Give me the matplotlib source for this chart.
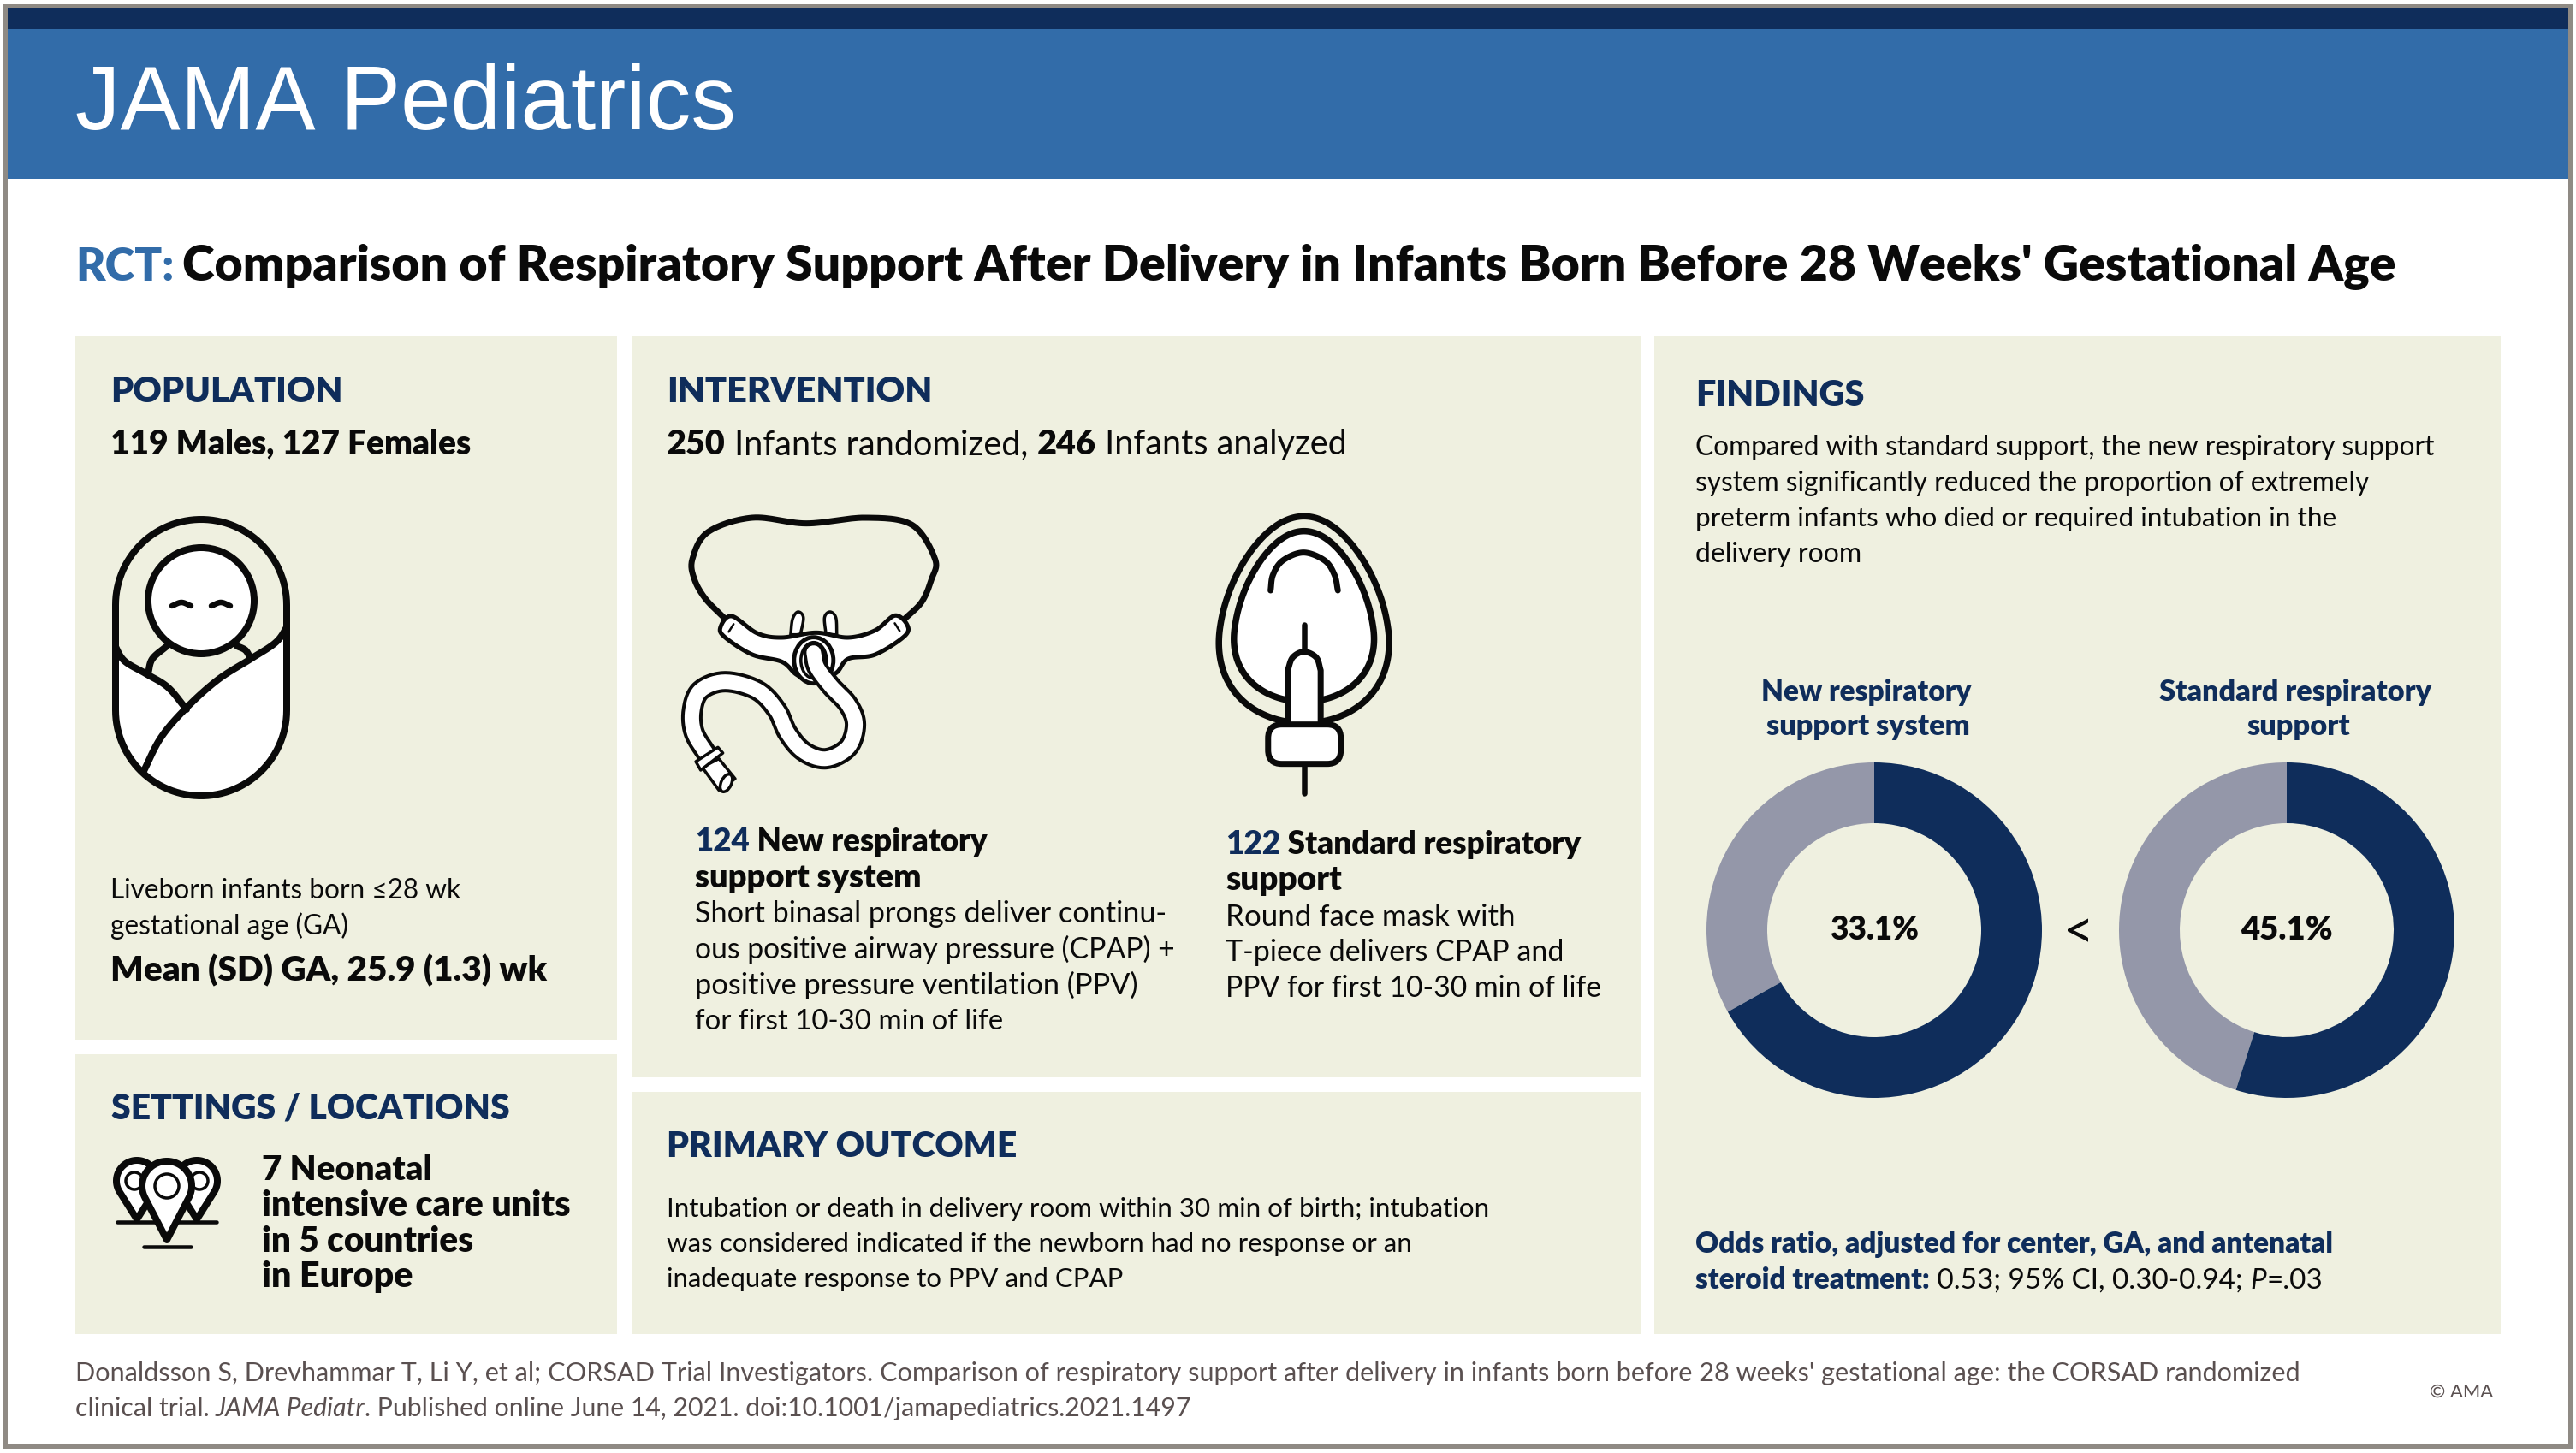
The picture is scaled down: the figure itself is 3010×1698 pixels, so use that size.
import numpy as np
import matplotlib
matplotlib.use("Agg")
import matplotlib.pyplot as plt
from matplotlib.patches import Rectangle, Circle, Polygon, FancyBboxPatch, Ellipse

W, H = 3010, 1698
NAVY, BLUE, PANEL, GREY, BORDER, FOOT, INK = "#0f2d5b", "#326ca9", "#eff0e0", "#9497a9", "#8f8a84", "#5a5050", "#0a0a0a"

# ---- data ----
groups = ["New respiratory support system", "Standard respiratory support"]
event_pct = [33.1, 45.1]
n_infants = [124, 122]

BODY = "Lato"
HEAVY = 800

fig = plt.figure(figsize=(W / 100, H / 100), dpi=100, facecolor="white")
bg = fig.add_axes([0, 0, 1, 1], zorder=0)
ax = fig.add_axes([0, 0, 1, 1], zorder=2)
for a in (bg, ax):
    a.set_xlim(0, W); a.set_ylim(H, 0); a.axis("off")
ax.patch.set_visible(False)
renderer = fig.canvas.get_renderer()

def rect(x0, y0, x1, y1, c, **k):
    bg.add_patch(Rectangle((x0, y0), x1 - x0, y1 - y0, fc=c, ec="none", **k))

# frame + header
rect(4, 5, 3006, 1693, BORDER)
rect(9, 9, 3001, 1688, "white")
rect(9, 9, 3001, 34, NAVY)
rect(9, 34, 3001, 209, BLUE)
# panels
for p in [(88, 393, 721, 1215), (88, 1232, 721, 1559), (738, 393, 1918, 1259),
          (738, 1276, 1918, 1559), (1933, 393, 2922, 1559)]:
    rect(*p, PANEL)

def seq(x, y, parts, x_end, family=BODY, base=36):
    """parts: (text, weight, style, colour); scaled so the run ends at x_end."""
    ts = []
    for s, w, st, c in parts:
        ts.append(ax.text(x, y, s.replace(" ", "\u00a0"), family=family, weight=w, style=st, color=c,
                          fontsize=base * .72, ha="left", va="baseline"))
    ws = [t.get_window_extent(renderer).width for t in ts]
    f = (x_end - x) / sum(ws)
    cx = x
    for t, w in zip(ts, ws):
        t.set_fontsize(base * .72 * f)
        t.set_x(cx)
        cx += w * f
    return f

def reg(x, y, s, xe, c=INK): seq(x, y, [(s, "normal", "normal", c)], xe)
def bold(x, y, s, xe, c=INK): seq(x, y, [(s, HEAVY, "normal", c)], xe)

seq(88, 151, [("JAMA Pediatrics", "normal", "normal", "white")], 860, family="Liberation Sans", base=100)
seq(88, 328, [("RCT:", HEAVY, "normal", BLUE)], 203, base=57)
seq(213, 328, [("Comparison of Respiratory Support After Delivery in Infants Born Before 28 Weeks' Gestational Age", HEAVY, "normal", INK)], 2797, base=57)

# population
bold(129, 470, "POPULATION", 400, NAVY)
bold(129, 531, "119 Males, 127 Females", 551)
reg(129, 1050, "Liveborn infants born ≤28 wk", 538)
reg(129, 1092, "gestational age (GA)", 407)
bold(129, 1146, "Mean (SD) GA, 25.9 (1.3) wk", 640)

# settings
bold(130, 1308, "SETTINGS / LOCATIONS", 595, NAVY)
for s, y, xe in [("7 Neonatal", 1379, 505), ("intensive care units", 1421, 668),
                 ("in 5 countries", 1463, 554), ("in Europe", 1504, 483)]:
    bold(306, y, s, xe)

# intervention
bold(779, 470, "INTERVENTION", 1090, NAVY)
seq(779, 531, [("250", HEAVY, "normal", INK), (" Infants randomized, ", "normal", "normal", INK),
               ("246", HEAVY, "normal", INK), (" Infants analyzed", "normal", "normal", INK)], 1574)
seq(812, 995, [(str(n_infants[0]), HEAVY, "normal", NAVY), (" New respiratory", HEAVY, "normal", INK)], 1154)
bold(812, 1037, "support system", 1077)
for s, y, xe in [("Short binasal prongs deliver continu-", 1078, 1363),
                 ("ous positive airway pressure (CPAP) +", 1120, 1372),
                 ("positive pressure ventilation (PPV)", 1162, 1330),
                 ("for first 10-30 min of life", 1203, 1172)]:
    reg(812, y, s, xe)
seq(1432, 998, [(str(n_infants[1]), HEAVY, "normal", NAVY), (" Standard respiratory", HEAVY, "normal", INK)], 1849)
bold(1432, 1040, "support", 1568)
for s, y, xe in [("Round face mask with", 1082, 1770), ("T-piece delivers CPAP and", 1123, 1828),
                 ("PPV for first 10-30 min of life", 1165, 1872)]:
    reg(1432, y, s, xe)

# outcome
bold(779, 1352, "PRIMARY OUTCOME", 1188, NAVY)
for s, y, xe in [("Intubation or death in delivery room within 30 min of birth; intubation", 1422, 1743),
                 ("was considered indicated if the newborn had no response or an", 1463, 1651),
                 ("inadequate response to PPV and CPAP", 1504, 1311)]:
    reg(779, y, s, xe)

# findings
bold(1981, 474, "FINDINGS", 2179, NAVY)
for s, y, xe in [("Compared with standard support, the new respiratory support", 532, 2845),
                 ("system significantly reduced the proportion of extremely", 574, 2769),
                 ("preterm infants who died or required intubation in the", 615, 2728),
                 ("delivery room", 657, 2175)]:
    reg(1981, y, s, xe)
bold(2058, 819, "New respiratory", 2304, NAVY)
bold(2064, 859, "support system", 2302, NAVY)
bold(2523, 819, "Standard respiratory", 2842, NAVY)
bold(2625, 859, "support", 2746, NAVY)

# donuts drawn from the values
R, r = 196, 125
for cx, v, x0, x1 in zip([2190, 2672], event_pct, [2138, 2618], [2242, 2726]):
    a = fig.add_axes([(cx - R) / W, 1 - (1087 + R) / H, 2 * R / W, 2 * R / H], zorder=1)
    a.pie([v, 100 - v], colors=[GREY, NAVY], startangle=90, counterclock=True,
          radius=1, wedgeprops=dict(width=(R - r) / R, edgecolor="none"))
    a.set_xlim(-1, 1); a.set_ylim(-1, 1)
    bold(x0, 1098, f"{v:.1f}%", x1)
seq(2411, 1108, [("<", "normal", "normal", INK)], 2447)

seq(1981, 1464, [("Odds ratio, adjusted for center, GA, and antenatal", HEAVY, "normal", NAVY)], 2727)
seq(1981, 1506, [("steroid treatment:", HEAVY, "normal", NAVY), (" 0.53; 95% CI, 0.30-0.94; ", "normal", "normal", INK),
                 ("P", "normal", "italic", INK), ("=.03", "normal", "normal", INK)], 2714)

# footer
reg(88, 1614, "Donaldsson S, Drevhammar T, Li Y, et al; CORSAD Trial Investigators. Comparison of respiratory support after delivery in infants born before 28 weeks' gestational age: the CORSAD randomized", 2687, FOOT)
seq(88, 1655, [("clinical trial. ", "normal", "normal", FOOT), ("JAMA Pediatr", "normal", "italic", FOOT),
               (". Published online June 14, 2021. doi:10.1001/jamapediatrics.2021.1497", "normal", "normal", FOOT)], 1392)
reg(2839, 1633, "© AMA", 2913, FOOT)

# ---- icons ----
def smooth(pts, closed=False, n=16):
    p = np.asarray(pts, float)
    if closed:
        p = np.vstack([p[-1], p, p[0], p[1]])
    else:
        p = np.vstack([2 * p[0] - p[1], p, 2 * p[-1] - p[-2]])
    out = []
    t = np.linspace(0, 1, n, endpoint=False)[:, None]
    for i in range(1, len(p) - 2):
        a, b, c, d = p[i - 1], p[i], p[i + 1], p[i + 2]
        out.append(.5 * (2 * b + (c - a) * t + (2 * a - 5 * b + 4 * c - d) * t**2 + (3 * b - a - 3 * c + d) * t**3))
    out = np.vstack(out)
    return np.vstack([out, p[-2]]) if not closed else out

def line(P, lw, c=INK, z=5, cap="round", clip=None):
    l, = ax.plot(P[:, 0], P[:, 1], color=c, lw=lw * .72, zorder=z, solid_capstyle=cap, solid_joinstyle="round")
    if clip is not None:
        l.set_clip_path(clip)
    return l

def shape(P, fc="white", lw=5, z=5, clip=None):
    s = Polygon(P, closed=True, fc=fc, ec=INK if lw else "none", lw=lw * .72, zorder=z, joinstyle="round")
    ax.add_patch(s)
    if clip is not None:
        s.set_clip_path(clip)
    return s

# baby
cap = np.vstack([
    np.c_[235 + 100 * np.cos(np.linspace(np.pi, 2 * np.pi, 60)), 707 + 100 * np.sin(np.linspace(np.pi, 2 * np.pi, 60))],
    np.c_[235 + 100 * np.cos(np.linspace(0, np.pi, 60)), 830 + 100 * np.sin(np.linspace(0, np.pi, 60))]])
capsule = Polygon(cap, closed=True, fc="none", ec="none", transform=ax.transData)
ax.add_patch(capsule)
shoulderL = smooth([(173, 787), (178, 770), (195, 755)])
shoulderR = smooth([(277, 755), (287, 760), (293, 770)])
line(shoulderL, 8, z=3); line(shoulderR, 8, z=3)
foldL = smooth([(133, 752), (145, 772), (170, 787), (196, 803), (218, 829)])
foldR = smooth([(338, 728), (323, 750), (293, 770), (255, 794), (218, 827), (188, 862), (167, 903)])
split = np.argmin(abs(foldR[:, 0] - 218))
blanket = np.vstack([foldL, foldR[:split][::-1], [(345, 950), (125, 950)]])
shape(blanket, lw=0, z=3.5, clip=capsule)
line(foldL, 8, z=4, clip=capsule); line(foldR, 8, z=4, clip=capsule)
ax.add_patch(Circle((235, 702), 62, fc="white", ec=INK, lw=8 * .72, zorder=3.2))
for ex in (212, 258):
    line(smooth([(ex - 11, 708), (ex, 704), (ex + 11, 708)]), 6.5, z=4)
shape(cap, fc="none", lw=8, z=6)

# pins
def pin(cx, cy, r, tipy, rin, lw, lwin, z, incx=None):
    phi = np.arcsin(r / (tipy - cy))
    a = np.linspace(np.pi - phi, 2 * np.pi + phi, 60)
    P = np.c_[cx + r * np.cos(a), cy + r * np.sin(a)]
    shape(np.vstack([P, [cx, tipy]]), lw=lw, z=z)
    ax.add_patch(Circle((incx if incx else cx, cy), rin, fc="none", ec=INK, lw=lwin * .72, zorder=z + .1))
line(np.array([(137, 1428), (253, 1428)]), 4.5, z=3)
pin(160, 1380, 24, 1425, 10, 8, 3.5, 3, incx=157)
pin(230, 1380, 24, 1425, 10, 8, 3.5, 3, incx=233)
pin(195, 1386, 29, 1449, 14, 8, 3.5, 4)
line(np.array([(168, 1457), (223, 1457)]), 4.5, z=4)

# zoom coordinates -> pixels for the device icons
def Z(pts):
    a = np.asarray(pts, float)
    return np.c_[770 + a[:, 0] * .574, 580 + a[:, 1] / 3]

# nasal prongs
strap = smooth(Z([(135, 430), (95, 360), (72, 290), (68, 220), (100, 125), (190, 75), (300, 95), (420, 75), (515, 100), (562, 220), (555, 290), (535, 370), (500, 430)]))
line(strap, 7, z=3)
for pts in ([(268, 485), (272, 430), (283, 405), (294, 425), (288, 485)], [(340, 485), (337, 425), (348, 405), (360, 425), (362, 485)]):
    shape(smooth(Z(pts)), lw=3.5, z=3)
body = smooth(Z([(148, 420), (125, 460), (135, 495), (190, 555), (250, 580), (280, 625), (315, 650), (360, 620), (385, 570), (440, 555), (500, 490), (505, 450), (480, 418), (440, 470), (385, 495), (320, 478), (250, 495), (200, 480)]), closed=True)
shape(body, lw=5, z=4)
line(Z([(152, 448), (142, 475)]), 2.5, z=5); line(Z([(480, 445), (490, 472)]), 2.5, z=5)
ax.add_patch(Ellipse(tuple(Z([(315, 575)])[0]), 46, 54, fc="white", ec=INK, lw=3.5, zorder=5))
ax.add_patch(Ellipse(tuple(Z([(315, 575)])[0]), 30, 42, fc="white", ec=INK, lw=2.5, zorder=5))
tube = smooth(Z([(315, 548), (322, 600), (350, 665), (385, 730), (400, 800), (385, 880), (340, 920), (295, 895), (262, 830), (240, 750), (200, 680), (135, 650), (85, 680), (68, 750), (72, 830), (100, 910)]))
line(tube, 25, z=6); line(tube, 17, c="white", z=6.1)
end = Z([(88, 950), (122, 1030), (155, 990), (122, 920)])
shape(end, lw=3.5, z=6.2)
ax.add_patch(Ellipse(tuple(Z([(137, 1005)])[0]), 12, 22, angle=25, fc="white", ec=INK, lw=2.5, zorder=6.3))
shape(Z([(75, 930), (120, 880), (130, 900), (85, 960)]), lw=3.5, z=6.4)

# face mask
def egg(a, top, bottom, k=.2, yc=450, cx=1313):
    t = np.linspace(0, 2 * np.pi, 200)
    c = np.cos(t)
    b = np.where(c > 0, top, bottom)
    return Z(np.c_[cx + a * np.sin(t) * (1 - k * c), yc - b * c])
shape(egg(170, 380, 345), fc=PANEL, lw=7.5, z=3)
shape(egg(140, 328, 270), lw=7.5, z=3.1)
line(smooth(Z([(1245, 330), (1250, 275), (1270, 225), (1312, 197), (1355, 225), (1375, 275), (1382, 330)])), 7, z=4)
line(Z([(1313, 450), (1313, 560)]), 6.5, z=4)
line(Z([(1313, 930), (1313, 1042)]), 6.5, z=4)
stem = np.vstack([Z([(1280, 810)]), smooth(Z([(1280, 610), (1290, 565), (1313, 545), (1338, 565), (1347, 610)])), Z([(1347, 810)])])
shape(stem, lw=7, z=5)
x0, y0 = Z([(1240, 800)])[0]; x1, y1 = Z([(1388, 938)])[0]
ax.add_patch(FancyBboxPatch((x0, y0), x1 - x0, y1 - y0, boxstyle="round,pad=0,rounding_size=16",
                            fc="white", ec=INK, lw=7 * .72, zorder=6))

fig.savefig("out.png", dpi=100, facecolor="white")
